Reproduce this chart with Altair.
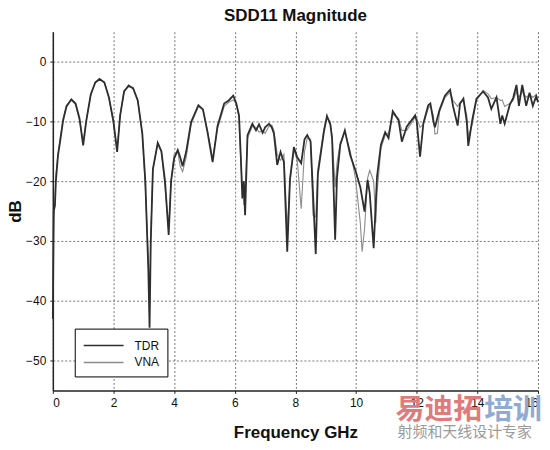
import altair as alt
import pandas as pd

freq_tdr = [0.0, 0.03, 0.07, 0.1, 0.17, 0.25, 0.34, 0.45, 0.61, 0.75, 0.88, 1.0, 1.1, 1.25, 1.4, 1.54, 1.7, 1.85,
            2.0, 2.12, 2.22, 2.35, 2.5, 2.65, 2.8, 2.95, 3.05, 3.15, 3.19, 3.23, 3.3, 3.46, 3.58, 3.7, 3.82, 3.9,
            4.0, 4.12, 4.2, 4.28, 4.4, 4.56, 4.8, 4.95, 5.1, 5.27, 5.43, 5.65, 5.8, 5.95, 6.05, 6.14, 6.2, 6.25,
            6.3, 6.34, 6.42, 6.58, 6.7, 6.8, 6.92, 7.0, 7.13, 7.22, 7.29, 7.40, 7.51, 7.62, 7.73, 7.82, 7.95,
            8.06, 8.19, 8.3, 8.39, 8.5, 8.58, 8.67, 8.74, 8.94, 9.04, 9.15, 9.21, 9.31, 9.37, 9.48, 9.63, 9.81,
            9.98, 10.14, 10.28, 10.38, 10.45, 10.58, 10.69, 10.82, 10.96, 11.07, 11.21, 11.4, 11.51, 11.67,
            11.95, 12.0, 12.11, 12.22, 12.38, 12.45, 12.55, 12.6, 12.75, 12.93, 13.1, 13.2, 13.35, 13.43, 13.54,
            13.65, 13.70, 13.83, 13.97, 14.19, 14.35, 14.46, 14.63, 14.76, 14.82, 14.9, 15.07, 15.18, 15.29,
            15.37, 15.48, 15.61, 15.72, 15.83, 15.94, 16.0]
db_tdr = [-43, -25, -24, -20, -15.7, -13, -9.8, -7.5, -6.3, -7, -9.5, -14, -10, -5.5, -3.5, -2.9, -3.5, -6,
          -10, -15.1, -9, -5, -4, -4.5, -6.5, -12, -20, -35, -44.5, -30, -18, -13.6, -15, -20, -29, -20,
          -16.2, -14.8, -16, -17.5, -15, -10.1, -7.3, -8, -11.8, -16.8, -10.8, -7, -6.5, -5.7, -7, -9, -16, -22.9,
          -20, -25.7, -12.3, -10.4, -11.5, -10.5, -11.9, -11, -10.4, -11, -12, -17.3, -15.1, -16.8, -31.8, -19.7, -14.3,
          -16, -17, -13, -12.3, -13.4, -22, -32.2, -18.8, -11.7, -9.1, -10.5, -12.9, -29.8, -19.4, -13.9, -11.5, -15.7,
          -18.2, -21, -25.1, -19.8, -22, -31.2, -19.3, -13.9, -11.8, -12.8, -8.3, -9.8, -13.4, -10.9,
          -9, -10, -15.9, -10.3, -7.3, -7.0, -10, -11, -8.1, -5.7, -4.7, -7.5, -10.7, -7, -6.2,
          -10, -14.1, -9.8, -6.2, -5, -6, -7.9, -6, -10.4, -9, -10.4, -7.2, -6.1, -3.9,
          -7.4, -3.9, -7.4, -5.2, -7.4, -5.8, -6.8]

freq_vna = [0.0, 0.03, 0.07, 0.1, 0.17, 0.25, 0.34, 0.45, 0.61, 0.75, 0.88, 1.0, 1.1, 1.25, 1.4, 1.54, 1.7, 1.85,
            2.0, 2.12, 2.22, 2.35, 2.5, 2.65, 2.8, 2.95, 3.05, 3.15, 3.19, 3.23, 3.3, 3.46, 3.58, 3.7, 3.82, 3.9,
            4.0, 4.12, 4.2, 4.28, 4.4, 4.56, 4.8, 4.95, 5.1, 5.27, 5.43, 5.65, 5.8, 5.95, 6.05, 6.14, 6.2, 6.25,
            6.3, 6.34, 6.42, 6.58, 6.7, 6.8, 6.92, 7.0, 7.13, 7.22, 7.29, 7.40, 7.51, 7.62, 7.73, 7.82, 7.95,
            8.06, 8.19, 8.3, 8.39, 8.5, 8.58, 8.67, 8.74, 8.94, 9.04, 9.15, 9.21, 9.31, 9.37, 9.48, 9.63, 9.81,
            9.98, 10.14, 10.2, 10.28, 10.38, 10.45, 10.58, 10.65, 10.69, 10.82, 10.96, 11.07, 11.21, 11.4, 11.51,
            11.67, 11.95, 12.0, 12.11, 12.22, 12.38, 12.45, 12.55, 12.6, 12.68, 12.75, 12.93, 13.1, 13.2, 13.35,
            13.43, 13.54, 13.65, 13.70, 13.83, 13.97, 14.19, 14.35, 14.46, 14.63, 14.76, 14.82, 14.9, 15.07,
            15.18, 15.29, 15.37, 15.48, 15.61, 15.72, 15.83, 15.94, 16.0]
db_vna = [-38, -26, -24, -19, -15.5, -12.5, -9.6, -7.3, -6.5, -7.2, -9.8, -13.5, -10, -5.6, -3.4, -3.0, -3.4, -6,
          -10.5, -14.5, -9, -4.8, -4.2, -4.3, -6.5, -12, -21, -33, -40, -29, -18, -13.8, -15, -21, -28, -20,
          -15.5, -15.0, -17.5, -18.4, -16, -10.5, -7.5, -8, -11.5, -16.2, -11.2, -7.5, -6.8, -6.4, -7, -9.5, -17, -21,
          -24, -22, -12.8, -10.8, -11, -11.8, -11.6, -12, -10.8, -10.6, -11.5, -15.5, -16.5, -15.5, -28, -20, -14.8,
          -16.5, -24.6, -15, -12.8, -13, -25.7, -26, -18, -11.2, -9.4, -10, -12.5, -21, -17, -13.5, -11.8, -15,
          -19.5, -27, -31.8, -28, -19.5, -18.2, -20, -27, -22, -14.5, -12.3, -12, -8.8, -9.5, -11.5,
          -11.5, -9.3, -9.5, -11, -10.5, -7.8, -7.4, -9, -12.1, -12, -8.5, -6, -5.2, -6.5, -7.5,
          -6.8, -6.5, -9, -12.5, -10.5, -6.5, -4.8, -5.4, -6.2, -6, -6.5, -6.4, -7.5, -7.0,
          -6.5, -5, -6, -5, -6, -5.5, -6, -5.5, -6.2]

series_names = ["TDR", "VNA"]
series_colors = ["#2e2e2e", "#8c8c8c"]
x_ticks = [0, 2, 4, 6, 8, 10, 12, 14, 16]
y_ticks = [-50, -40, -30, -20, -10, 0]

df = pd.concat([
    pd.DataFrame({"freq": freq_tdr, "db": db_tdr, "series": "TDR"}),
    pd.DataFrame({"freq": freq_vna, "db": db_vna, "series": "VNA"}),
])

FONT = "Liberation Sans"

x_enc = alt.X("freq:Q", scale=alt.Scale(domain=[0, 16], nice=False),
              axis=alt.Axis(values=x_ticks, title="Frequency GHz", format="d"))
y_enc = alt.Y("db:Q", scale=alt.Scale(domain=[-55, 5], nice=False),
              axis=alt.Axis(values=y_ticks, title="dB", format="d", titleX=-28))
color_enc = alt.Color("series:N",
                      scale=alt.Scale(domain=series_names, range=series_colors),
                      legend=alt.Legend(title=None, orient="none", legendX=22, legendY=298,
                                        symbolType="M-1,0H4", symbolSize=256, symbolStrokeWidth=1.6,
                                        strokeColor="black", fillColor="white", padding=8,
                                        labelFontSize=12, labelFont=FONT, labelColor="#111",
                                        rowPadding=2, labelOffset=34))

base = alt.Chart(df).encode(x=x_enc, y=y_enc, color=color_enc)

vna = base.transform_filter(alt.datum.series == "VNA").mark_line(strokeWidth=1.1)
tdr = base.transform_filter(alt.datum.series == "TDR").mark_line(strokeWidth=1.8)

wm1 = alt.Chart(pd.DataFrame({"t": ["易迪拓"]})).mark_text(
    font="Noto Sans CJK SC", fontSize=29, fontWeight="bold", color="#e07b7b", align="left", baseline="middle"
).encode(text="t:N", x=alt.value(344), y=alt.value(380))
wm2 = alt.Chart(pd.DataFrame({"t": ["培训"]})).mark_text(
    font="Noto Sans CJK SC", fontSize=29, fontWeight="bold", color="#8fabd4", align="left", baseline="middle"
).encode(text="t:N", x=alt.value(433), y=alt.value(380))
wm3 = alt.Chart(pd.DataFrame({"t": ["射频和天线设计专家"]})).mark_text(
    font="Noto Sans CJK SC", fontSize=15, color="#9a9a9a", align="left", baseline="middle"
).encode(text="t:N", x=alt.value(346), y=alt.value(402))

chart = alt.layer(vna, tdr, wm1, wm2, wm3).properties(
    width=487, height=360,
    title=alt.TitleParams("SDD11 Magnitude", fontSize=17, font=FONT, fontWeight="bold",
                          anchor="middle", offset=7, color="#111"),
    autosize=alt.AutoSizeParams(type="none"),
    padding={"left": 45, "top": 23, "right": 4, "bottom": 51},
).configure_view(stroke=None).configure_axis(
    grid=True, gridColor="#555", gridDash=[2, 2], gridWidth=0.8,
    domainColor="#222", domainWidth=1.5, tickColor="#222", tickSize=3,
    labelFont=FONT, labelFontSize=12, labelColor="#111",
    titleFont=FONT, titleFontSize=17, titleFontWeight="bold", titleColor="#111",
).configure_axisX(labelPadding=4, titlePadding=16).configure_axisY(labelPadding=4)

chart.save("out.html", embed_options={"renderer": "svg", "actions": False})
